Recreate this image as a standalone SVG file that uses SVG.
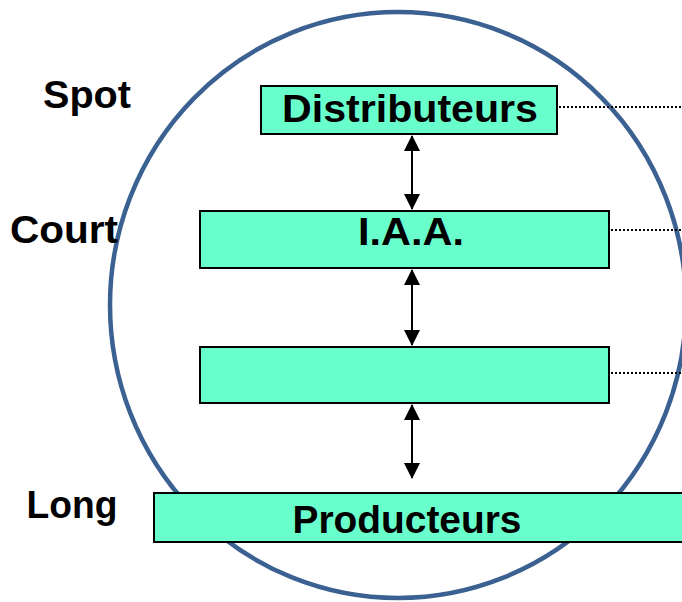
<svg xmlns="http://www.w3.org/2000/svg" width="682" height="602" viewBox="0 0 682 602">
<style>
.box{fill:#69FFCC;stroke:#000;stroke-width:2}
.t{font-family:"Liberation Sans",Arial,sans-serif;font-weight:bold;fill:#000}
.dot{stroke:#000;stroke-width:2;stroke-dasharray:2,2;fill:none}
.arr{stroke:#000;stroke-width:2;fill:none;marker-start:url(#ah);marker-end:url(#ah)}
</style>
<defs>
<marker id="ah" viewBox="0 0 16 16" refX="15" refY="8" markerWidth="16" markerHeight="16" markerUnits="userSpaceOnUse" orient="auto-start-reverse">
<path d="M0,0 L16,8 L0,16 Z" fill="#000"/>
</marker>
</defs>
<rect width="682" height="602" fill="#fff"/>
<ellipse id="circle" cx="398" cy="305" rx="288" ry="293" fill="none" stroke="#3A6191" stroke-width="4.5"/>
<g id="connectors">
<line class="arr" x1="412" y1="136" x2="412" y2="209"/>
<line class="arr" x1="412" y1="270" x2="412" y2="345"/>
<line class="arr" x1="412" y1="405" x2="412" y2="478"/>
<line class="dot" x1="559" y1="107" x2="682" y2="107"/>
<line class="dot" x1="611" y1="230" x2="682" y2="230"/>
<line class="dot" x1="611" y1="373" x2="682" y2="373"/>
</g>
<g id="distributeurs">
<rect class="box" x="261" y="86" width="296" height="48"/>
<text class="t" x="410" y="122" font-size="39" text-anchor="middle" textLength="256" lengthAdjust="spacingAndGlyphs">Distributeurs</text>
</g>
<g id="iaa">
<rect class="box" x="200" y="211" width="409" height="57"/>
<text class="t" x="411" y="245" font-size="39" text-anchor="middle" textLength="106" lengthAdjust="spacingAndGlyphs">I.A.A.</text>
</g>
<g id="intermediaire">
<rect class="box" x="200" y="347" width="409" height="56"/>
</g>
<g id="producteurs">
<rect class="box" x="154" y="493" width="540" height="49"/>
<text class="t" x="407" y="533" font-size="39" text-anchor="middle" textLength="229" lengthAdjust="spacingAndGlyphs">Producteurs</text>
</g>
<g id="labels">
<text class="t" x="87" y="108" font-size="38" text-anchor="middle" textLength="88" lengthAdjust="spacingAndGlyphs">Spot</text>
<text class="t" x="64" y="243" font-size="38" text-anchor="middle" textLength="108" lengthAdjust="spacingAndGlyphs">Court</text>
<text class="t" x="72" y="518" font-size="38" text-anchor="middle" textLength="91" lengthAdjust="spacingAndGlyphs">Long</text>
</g>
</svg>
